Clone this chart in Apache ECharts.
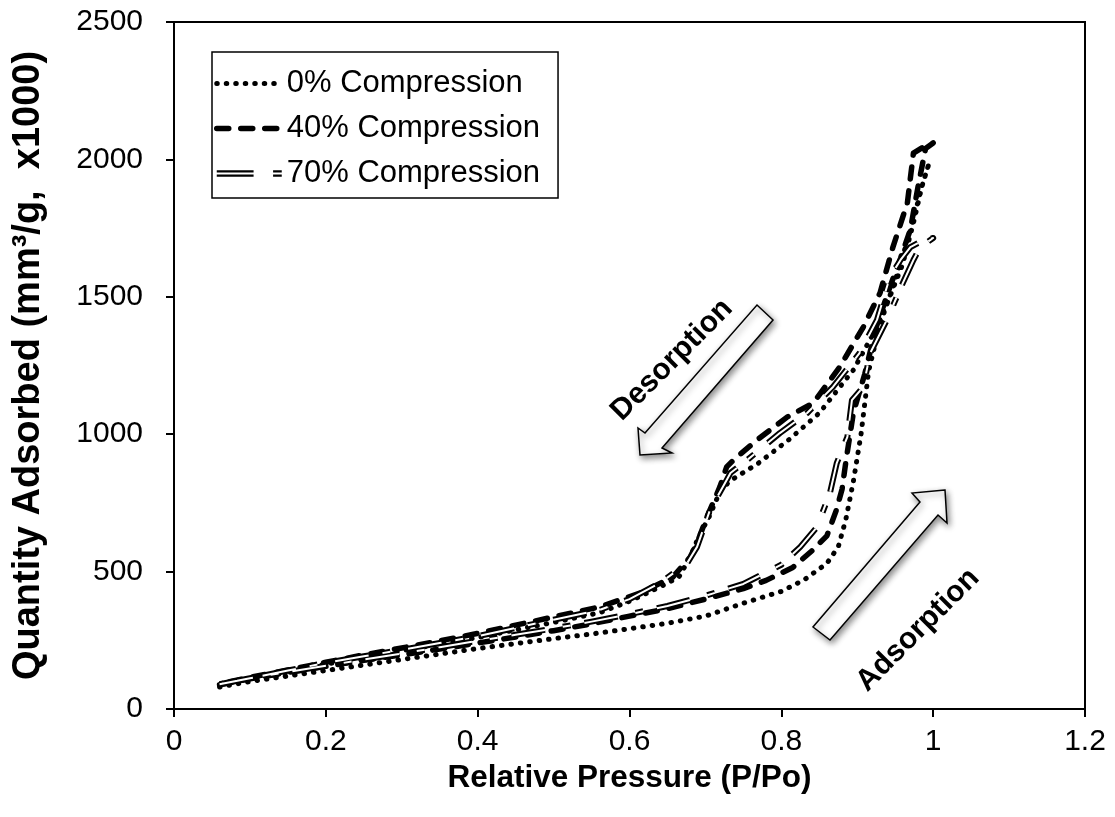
<!DOCTYPE html>
<html>
<head>
<meta charset="utf-8">
<script src="https://cdn.jsdelivr.net/npm/echarts@6/dist/echarts.min.js"></script>
<style>html,body{margin:0;padding:0;background:#fff;}#c{width:1115px;height:817px;}</style>
</head>
<body>
<div id="c"></div>
<script>
// ---- data ----
const xTicks = [0, 0.2, 0.4, 0.6, 0.8, 1, 1.2];
const yTicks = [0, 500, 1000, 1500, 2000, 2500];

// 0% compression
const p0AdsX = [0.06,0.1,0.15,0.2,0.25,0.3,0.35,0.4,0.45,0.5,0.55,0.6,0.65,0.7,0.75,0.8,0.83,0.86,0.875,0.885,0.895,0.905,0.915,0.93,0.95,0.97,0.985,0.995];
const p0AdsY = [80,100,120,140,160,180,200,220,238,256,273,292,312,338,385,428,470,530,590,690,830,1000,1230,1400,1560,1740,1900,1990];
const p0DesX = [0.995,0.985,0.975,0.96,0.94,0.92,0.895,0.85,0.81,0.77,0.735,0.72,0.705,0.69,0.68,0.665,0.64,0.6,0.56,0.5,0.45,0.4,0.35,0.3,0.25,0.2,0.15,0.1,0.06];
const p0DesY = [1990,1900,1780,1620,1480,1360,1234,1077,980,895,835,797,700,620,553,480,444,392,350,315,288,260,236,212,188,163,135,108,85];

// 40% compression
const p40AdsX = [0.06,0.1,0.15,0.2,0.25,0.3,0.35,0.4,0.45,0.5,0.55,0.6,0.65,0.7,0.75,0.78,0.815,0.84,0.86,0.872,0.88,0.885,0.89,0.895,0.91,0.925,0.943,0.957,0.97,0.98,0.99,1.0];
const p40AdsY = [88,110,133,155,177,197,218,240,262,285,310,338,365,400,438,468,515,575,630,720,800,900,990,1080,1220,1390,1535,1640,1745,1900,2040,2060];
const p40DesX = [1.0,0.99,0.974,0.966,0.947,0.93,0.908,0.877,0.842,0.808,0.768,0.737,0.728,0.719,0.702,0.689,0.68,0.657,0.614,0.56,0.5,0.45,0.4,0.35,0.3,0.25,0.2,0.15,0.1,0.06];
const p40DesY = [2060,2050,2023,1841,1681,1514,1390,1245,1113,1063,979,906,881,808,699,604,553,480,422,371,335,305,275,248,222,197,170,142,115,92];

// 70% compression
const p70AdsX = [0.06,0.1,0.15,0.2,0.25,0.3,0.35,0.4,0.45,0.5,0.55,0.6,0.65,0.7,0.75,0.8,0.825,0.847,0.864,0.873,0.887,0.893,0.908,0.917,0.939,0.96,0.974,0.983,1.0];
const p70AdsY = [90,112,135,157,180,202,225,248,270,293,318,345,375,412,455,525,590,662,786,895,990,1124,1172,1295,1416,1550,1634,1681,1714];
const p70DesX = [1.0,0.983,0.97,0.957,0.943,0.926,0.903,0.868,0.834,0.798,0.755,0.733,0.728,0.706,0.689,0.676,0.64,0.6,0.56,0.5,0.45,0.4,0.35,0.3,0.25,0.2,0.15,0.1,0.06];
const p70DesY = [1714,1700,1681,1634,1572,1416,1295,1172,1077,1004,906,859,833,724,590,531,458,400,360,325,295,265,240,215,192,168,140,112,90];

const names = ['0% Compression', '40% Compression', '70% Compression'];
const annotations = ['Desorption', 'Adsorption'];

// ---- build ----
function loop(ax, ay, dx, dy) {
  const pts = ax.map((x, i) => [x, ay[i]]);
  return pts.concat(dx.map((x, i) => [x, dy[i]]));
}
const d0 = loop(p0AdsX, p0AdsY, p0DesX, p0DesY);
const d40 = loop(p40AdsX, p40AdsY, p40DesX, p40DesY);
const d70 = loop(p70AdsX, p70AdsY, p70DesX, p70DesY);

const FONT = 'Liberation Sans, Arial, sans-serif';
const dash70 = [34, 18, 8, 14];
const style0 = {color: '#000', width: 5, type: [0.5, 9], cap: 'round', join: 'round'};
const style40 = {color: '#000', width: 5.5, type: [12, 12], cap: 'round', join: 'round'};
const style70 = {color: '#000', width: 6, type: dash70, cap: 'butt', join: 'round'};
const style70in = {color: '#fff', width: 2, type: dash70, cap: 'butt', join: 'round'};
const hidden = {opacity: 0};
// double dashed line sample for the legend (long pair, gap, short pair)
const doubleIcon = 'path://M0,0H34V2H0Z M0,4H34V6H0Z M52,0H60V2H52Z M52,4H60V6H52Z';

const chart = echarts.init(document.getElementById('c'), null, {renderer: 'canvas'});

function arrow(points) {
  return {
    type: 'polygon', z: 50,
    shape: {points: points},
    style: {fill: '#fff', stroke: '#000', lineWidth: 1.5,
      shadowBlur: 6, shadowColor: 'rgba(0,0,0,0.45)', shadowOffsetX: 2, shadowOffsetY: 3}
  };
}
function legendLine(s) {
  return {color: s.color, width: s.width, type: s.type, cap: s.cap};
}

chart.setOption({
  animation: false,
  backgroundColor: '#fff',
  grid: {left: 174, right: 30, top: 22, bottom: 108, show: true, borderColor: '#000', borderWidth: 2, backgroundColor: 'transparent'},
  xAxis: {
    type: 'value', min: xTicks[0], max: xTicks[xTicks.length - 1], interval: 0.2,
    name: 'Relative Pressure (P/Po)', nameLocation: 'middle', nameGap: 45,
    nameTextStyle: {fontFamily: FONT, fontSize: 31.5, fontWeight: 'bold', color: '#000'},
    axisLine: {show: true, lineStyle: {color: '#000', width: 2}},
    axisTick: {show: true, inside: false, length: 8, lineStyle: {color: '#000', width: 2}},
    axisLabel: {fontFamily: FONT, fontSize: 30, color: '#000', margin: 18,
      formatter: v => String(parseFloat(v.toFixed(1)))},
    splitLine: {show: false}
  },
  yAxis: {
    type: 'value', min: yTicks[0], max: yTicks[yTicks.length - 1], interval: 500,
    name: 'Quantity Adsorbed (mm\u00b3/g,  x1000)', nameLocation: 'middle', nameGap: 126,
    nameTextStyle: {fontFamily: FONT, fontSize: 38, fontWeight: 'bold', color: '#000'},
    axisLine: {show: true, lineStyle: {color: '#000', width: 2}},
    axisTick: {show: true, inside: false, length: 8, lineStyle: {color: '#000', width: 2}},
    axisLabel: {fontFamily: FONT, fontSize: 30, color: '#000', margin: 31, formatter: v => String(v)},
    splitLine: {show: false}
  },
  legend: {
    data: [
      {name: names[0], itemStyle: hidden, lineStyle: legendLine(style0)},
      {name: names[1], itemStyle: hidden, lineStyle: legendLine(style40)},
      {name: names[2], icon: doubleIcon, itemStyle: {color: '#000', opacity: 1, borderWidth: 0}}
    ],
    left: 212, top: 52, orient: 'vertical', symbolKeepAspect: true,
    itemWidth: 65, itemHeight: 30, itemGap: 14, itemTextGap: 10,
    padding: [16, 18, 9, 2], borderColor: '#000', borderWidth: 1.5, backgroundColor: '#fff',
    textStyle: {fontFamily: FONT, fontSize: 31, lineHeight: 30, color: '#000'},
    selectedMode: false, z: 10
  },
  series: [{
    name: names[0], type: 'line', data: d0, symbol: 'none', lineStyle: style0
  }, {
    name: names[1], type: 'line', data: d40, symbol: 'none', lineStyle: style40
  }, {
    name: names[2], type: 'line', data: d70, symbol: 'none', lineStyle: style70
  }, {
    name: '70% inner', type: 'line', data: d70, symbol: 'none', lineStyle: style70in
  }],
  graphic: [
    arrow([[640,455],[638,428],[645,433],[757,305],[773,320],[662,448],[672,453]]),
    arrow([[945,490],[912,493],[920,502],[813,627],[830,640],[938,515],[947,523]]),
    {type: 'text', z: 60, x: 672, y: 360, rotation: Math.PI / 4,
      style: {text: annotations[0], fontFamily: FONT, fontSize: 30, fontWeight: 'bold', fill: '#000', align: 'center', verticalAlign: 'middle'}},
    {type: 'text', z: 60, x: 918, y: 630, rotation: Math.PI / 4,
      style: {text: annotations[1], fontFamily: FONT, fontSize: 30, fontWeight: 'bold', fill: '#000', align: 'center', verticalAlign: 'middle'}}
  ]
});
</script>
</body>
</html>
